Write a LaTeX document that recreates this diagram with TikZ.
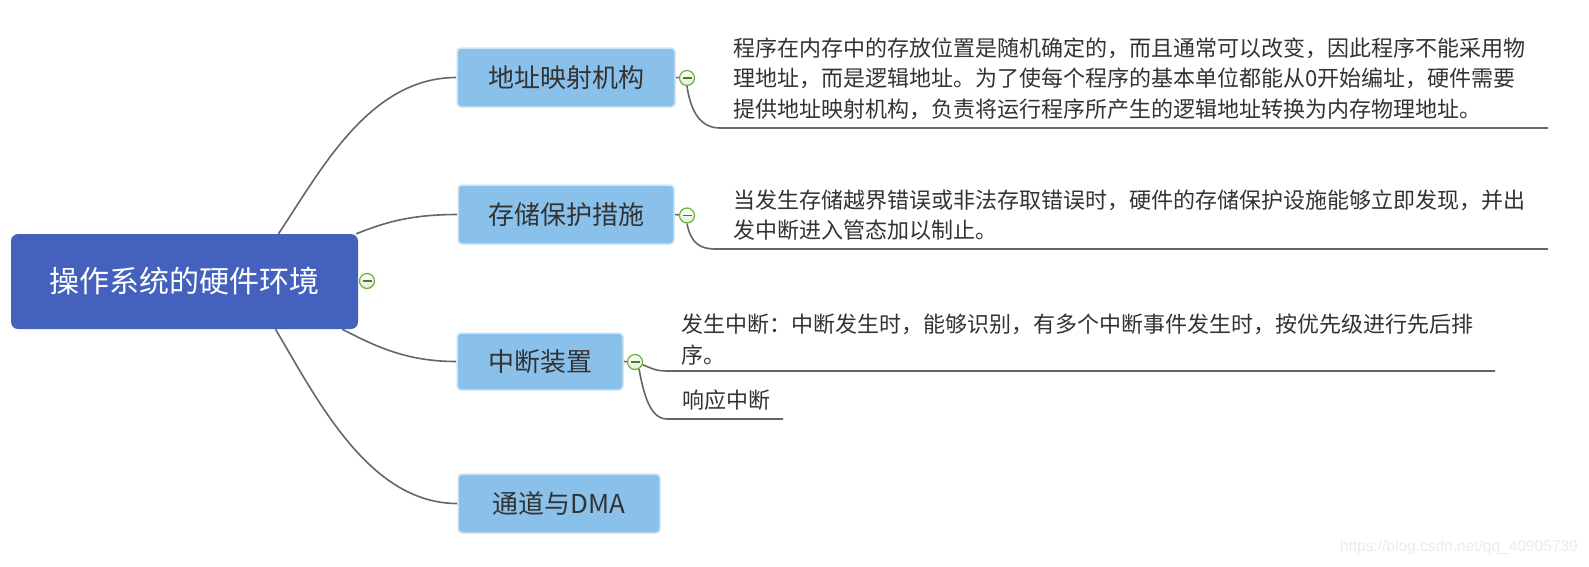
\documentclass[tikz,border=0pt]{standalone}
\usepackage{fontspec}
\newfontfamily\cjk{Noto Sans CJK SC}
\newfontfamily\wm{Liberation Sans}
\usetikzlibrary{calc,backgrounds}
\definecolor{rootblue}{HTML}{4361BD}
\definecolor{childblue}{HTML}{8AC1EA}
\definecolor{childborder}{HTML}{D3E5F5}
\definecolor{linegray}{HTML}{666666}
\definecolor{textgray}{HTML}{333333}
\definecolor{toggreen}{HTML}{6BAF3B}
\begin{document}
\begin{tikzpicture}[x=1pt,y=-1pt,
  rootbox/.style={rounded corners=7pt, fill=rootblue, text=white, font=\cjk\fontsize{30}{36}\selectfont, minimum width=347pt, minimum height=95pt, inner sep=0pt},
  topicbox/.style={rounded corners=4pt, fill=childblue, draw=childborder, line width=1.5pt, text=textgray, font=\cjk\fontsize{26}{31}\selectfont, minimum height=59pt, inner sep=0pt},
  note/.style={anchor=west, align=left, inner sep=0pt, text=textgray, font=\cjk\fontsize{22}{30.5}\selectfont},
  branch/.style={draw=linegray, line width=1.6pt},
  toggle/.style={circle, draw=toggreen, line width=1.2pt, top color=white, bottom color=toggreen!20, minimum size=15pt, inner sep=0pt,
    path picture={\draw[toggreen!70!black, line width=1.3pt] ([xshift=-4.5pt]path picture bounding box.center) -- ([xshift=4.5pt]path picture bounding box.center);}},
]
\useasboundingbox (0,0) rectangle (1589,566);

% nodes
\node[rootbox] (root) at (184.5,281.5) {操作系统的硬件环境};
\node[toggle] (t0) at (367,281) {};
\node[topicbox, minimum width=218pt] (c1) at (566,77.5) {地址映射机构};
\node[topicbox, minimum width=216pt] (c2) at (566,214.5) {存储保护措施};
\node[topicbox, minimum width=166pt, minimum height=57pt] (c3) at (540,361.5) {中断装置};
\node[topicbox, minimum width=202pt] (c4) at (559,503.5) {通道与DMA};
\node[toggle] (t1) at (687,78) {};
\node[toggle] (t2) at (687,215.5) {};
\node[toggle] (t3) at (635,362) {};

\node[note] (x1) at (733,78.5) {程序在内存中的存放位置是随机确定的，而且通常可以改变，因此程序不能采用物\\理地址，而是逻辑地址。为了使每个程序的基本单位都能从0开始编址，硬件需要\\提供地址映射机构，负责将运行程序所产生的逻辑地址转换为内存物理地址。};
\node[note] (x2) at (733,215.3) {当发生存储越界错误或非法存取错误时，硬件的存储保护设施能够立即发现，并出\\发中断进入管态加以制止。};
\node[note] (x3) at (681.5,339.4) {发生中断：中断发生时，能够识别，有多个中断事件发生时，按优先级进行先后排\\序。};
\node[note] (x4) at (682,400.5) {响应中断};

\node[font=\wm\fontsize{15.5}{18}\selectfont, text=black!8, anchor=east, inner sep=0pt] (wm) at (1578,547) {https://blog.csdn.net/qq\_40905739};

\coordinate (n1a) at (720,128);
\coordinate (n1b) at (1548,128);
\coordinate (n2a) at (716,249);
\coordinate (n2b) at (1548,249);
\coordinate (n3a) at (667,371);
\coordinate (n3b) at (1495,371);
\coordinate (n4a) at (667,419);
\coordinate (n4b) at (783,419);

\begin{pgfonlayer}{background}
\draw[branch] ([xshift=94pt]root.north) .. controls +(42,-63) and +(-87,0) .. (c1.west);
\draw[branch] ([xshift=-2pt]root.north east) .. controls +(30,-12) and +(-45,0) .. (c2.west);
\draw[branch] ([xshift=-16pt]root.south east) .. controls +(33,17) and +(-50,0) .. (c3.west);
\draw[branch] ([xshift=91pt]root.south) .. controls +(42,71) and +(-88,0) .. (c4.west);
\draw[branch] (c1.east) -- (t1);
\draw[branch] (c2.east) -- (t2);
\draw[branch] (c3.east) -- (t3);
\draw[branch] (t1.south) .. controls +(4,28) and +(-18,0) .. (n1a) -- (n1b);
\draw[branch] (t2.south) .. controls +(4,20) and +(-16,0) .. (n2a) -- (n2b);
\draw[branch] (t3.-20) .. controls +(8,3) and +(-12,0) .. (n3a) -- (n3b);
\draw[branch] (t3.-60) .. controls +(5,28) and +(-16,0) .. (n4a) -- (n4b);
\end{pgfonlayer}
\end{tikzpicture}
\end{document}
